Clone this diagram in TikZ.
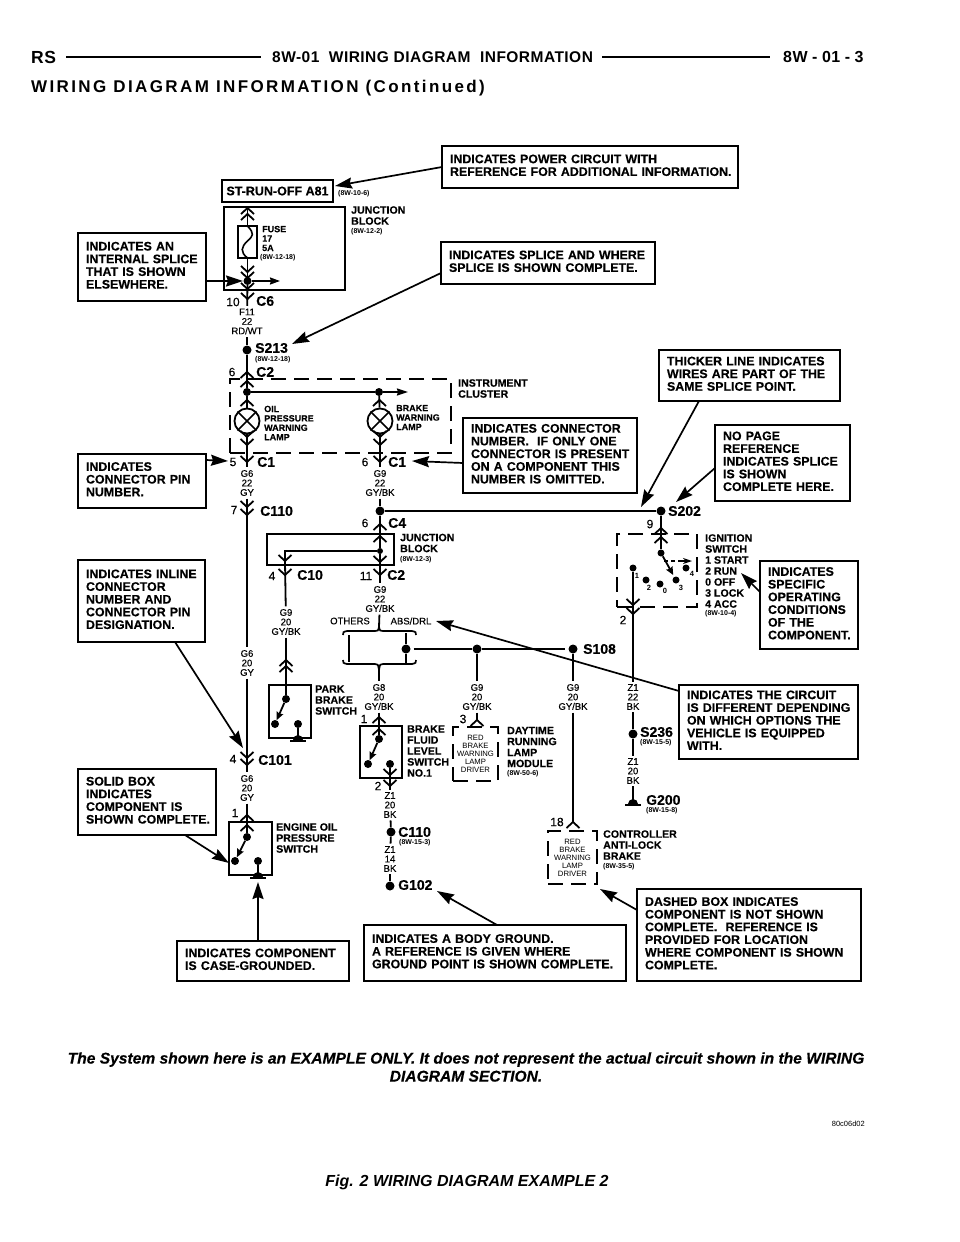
\documentclass[tikz,border=0pt]{standalone}
\usepackage{fontspec}
\setmainfont{Liberation Sans}
\newfontfamily\hdrfont[LetterSpace=14]{Liberation Sans}
\newfontfamily\headfont[LetterSpace=3]{Liberation Sans}
\newfontfamily\fb[FakeBold=0.35]{Liberation Sans Bold}
\newfontfamily\fr[FakeBold=0.3]{Liberation Sans}
\newfontfamily\fbi[FakeBold=0.35]{Liberation Sans Bold Italic}
\usetikzlibrary{arrows.meta,calc}
\tikzset{
  wire/.style={line width=1.8},
  trunk/.style={line width=2.4},
  call/.style={line width=1.7,-{Stealth[length=17,width=11,inset=2]}},
  blade/.style={line width=1.8,-{Stealth[length=8,width=7,inset=1]}},
  chev/.style={line width=1.8},
  boxln/.style={draw,line width=2},
  dashbox/.style={draw,line width=2,dash pattern=on 15 off 8},
  jdot/.style={circle,fill=black,inner sep=0,minimum size=9},
  sdot/.style={circle,fill=black,inner sep=0,minimum size=8},
  wl/.style={font=\fontsize{9.5}{9.5}\selectfont\fr,align=center,inner sep=2.5},
  comp/.style={font=\fontsize{10.6}{11}\selectfont\fb,align=left,anchor=west,inner sep=0},
  compsm/.style={font=\fontsize{9}{9.4}\selectfont\fb,align=left,anchor=west,inner sep=0},
  refl/.style={font=\fontsize{7}{7}\selectfont\bfseries,anchor=west,inner sep=0},
  conn/.style={font=\fontsize{14}{14}\selectfont\fb,anchor=west,inner sep=0},
  pin/.style={font=\fontsize{12}{12}\selectfont\fr,inner sep=0},
  driver/.style={font=\fontsize{7.7}{8}\selectfont,align=center},
}
\newcommand{\chevD}[2]{\draw[chev] (#1-6.5,#2-6)--(#1,#2)--(#1+6.5,#2-6);}
\newcommand{\chevU}[2]{\draw[chev] (#1-6.5,#2+6)--(#1,#2)--(#1+6.5,#2+6);}
\newcommand{\rectnode}[7][]{%
  \pgfmathsetmacro{\cxx}{(#3+#5)/2}\pgfmathsetmacro{\cyy}{(#4+#6)/2}%
  \pgfmathsetmacro{\cww}{#5-#3}\pgfmathsetmacro{\chh}{#6-#4}%
  \node[#1,outer sep=0,inner sep=0,minimum width=\cww pt,minimum height=\chh pt] (#2) at (\cxx,\cyy) {#7};}
\newcommand{\callout}[6]{%
  \pgfmathsetmacro{\cxx}{(#2+#4)/2}\pgfmathsetmacro{\cyy}{(#3+#5)/2}%
  \pgfmathsetmacro{\cww}{#4-#2}\pgfmathsetmacro{\chh}{#5-#3}\pgfmathsetmacro{\ctt}{#4-#2-16}%
  \node[boxln,outer sep=0,inner xsep=8,inner ysep=0,minimum width=\cww pt,minimum height=\chh pt,text width=\ctt pt,font=\fontsize{12.4}{12.7}\selectfont\fb] (#1) at (\cxx,\cyy) {\begin{tabular}{@{}l@{}}#6\end{tabular}};}
\newcommand{\gnd}[2]{\fill (#1-5,#2-1) arc[start angle=180,end angle=360,radius=5] -- cycle; \fill (#1-8,#2-1.5) rectangle (#1+8,#2+1.2);}
\newcommand{\lamp}[3]{\node[draw,circle,line width=1.8,minimum size=25,inner sep=0] (#1) at (#2,#3) {}; \draw[line width=1.6] (#1.45)--(#1.225) (#1.135)--(#1.315);}
\begin{document}
\begin{tikzpicture}[x=1pt,y=-1pt]
\useasboundingbox (0,0) rectangle (960,1242);
\fill[white] (0,0) rectangle (960,1242);

% header
\node[anchor=west,inner sep=0,font=\fontsize{17.5}{17.5}\selectfont\bfseries\headfont] (rs) at (31,57) {RS};
\node[anchor=west,inner sep=0,font=\fontsize{15.5}{16}\selectfont\bfseries\headfont] (ht) at (272,57) {8W-01\ \ WIRING DIAGRAM\ \ INFORMATION};
\node[anchor=west,inner sep=0,font=\fontsize{16}{16}\selectfont\bfseries\headfont] (hp) at (783,57) {8W\hspace{4.5pt}-\hspace{4.5pt}01\hspace{4.5pt}-\hspace{4.5pt}3};
\draw[line width=1.8] (rs.east)+(10,0) -- ([xshift=-11]ht.west);
\draw[line width=1.8] ([xshift=9]ht.east) -- ([xshift=-13]hp.west);
\node[anchor=west,inner sep=0,font=\fontsize{17}{17}\selectfont\bfseries\hdrfont] (sub) at (31,88) {WIRING DIAGRAM INFORMATION (Continued)};

% callouts
\callout{power}{442}{146}{738}{188}{INDICATES POWER CIRCUIT WITH\\REFERENCE FOR ADDITIONAL INFORMATION.}
\callout{internal}{78}{233}{206}{301}{INDICATES AN\\INTERNAL SPLICE\\THAT IS SHOWN\\ELSEWHERE.}
\callout{splice}{441}{242}{655}{284}{INDICATES SPLICE AND WHERE\\SPLICE IS SHOWN COMPLETE.}
\callout{thicker}{659}{350}{840}{401}{THICKER LINE INDICATES\\WIRES ARE PART OF THE\\SAME SPLICE POINT.}
\callout{nopage}{715}{425}{850}{501}{NO PAGE\\REFERENCE\\INDICATES SPLICE\\IS SHOWN\\COMPLETE HERE.}
\callout{connum}{463}{418}{637}{493}{INDICATES CONNECTOR\\NUMBER.\ \ IF ONLY ONE\\CONNECTOR IS PRESENT\\ON A COMPONENT THIS\\NUMBER IS OMITTED.}
\callout{pinnum}{78}{454}{206}{508}{INDICATES\\CONNECTOR PIN\\NUMBER.}
\callout{inline}{78}{560}{205}{642}{INDICATES INLINE\\CONNECTOR\\NUMBER AND\\CONNECTOR PIN\\DESIGNATION.}
\callout{specific}{760}{561}{858}{649}{INDICATES\\SPECIFIC\\OPERATING\\CONDITIONS\\OF THE\\COMPONENT.}
\callout{circuit}{679}{685}{858}{759}{INDICATES THE CIRCUIT\\IS DIFFERENT DEPENDING\\ON WHICH OPTIONS THE\\VEHICLE IS EQUIPPED\\WITH.}
\callout{solid}{78}{769}{216}{835}{SOLID BOX\\INDICATES\\COMPONENT IS\\SHOWN COMPLETE.}
\callout{casegnd}{177}{941}{349}{981}{INDICATES COMPONENT\\IS CASE-GROUNDED.}
\callout{body}{364}{925}{626}{981}{INDICATES A BODY GROUND.\\A REFERENCE IS GIVEN WHERE\\GROUND POINT IS SHOWN COMPLETE.}
\callout{dashedc}{637}{889}{861}{981}{DASHED BOX INDICATES\\COMPONENT IS NOT SHOWN\\COMPLETE.\ \ REFERENCE IS\\PROVIDED FOR LOCATION\\WHERE COMPONENT IS SHOWN\\COMPLETE.}

% power + junction block 1
\node[boxln,outer sep=0,inner sep=0,minimum width=111,minimum height=22,font=\fontsize{12.5}{12.5}\selectfont\fb] (strun) at (277.5,191) {ST-RUN-OFF A81};
\node[refl] (r1) at (338,194) {(8W-10-6)};
\rectnode[boxln]{jb1}{224}{207}{345}{290}{}
\node[comp] (jb1t) at (351,215.5) {JUNCTION\\BLOCK};
\node[refl] (r2) at (351,232) {(8W-12-2)};
\rectnode[draw,line width=1.8]{fuse}{238}{226}{257}{258}{}
\draw[line width=1.6] (fuse.north) .. controls (255,234) and (253,236) .. (247.5,241) .. controls (241,247) and (240,252) .. (fuse.south);
\node[compsm] (fuset) at (262,238.5) {FUSE\\17\\5A};
\node[refl] (r3) at (260,258) {(8W-12-18)};
\coordinate (jbtop) at (247.5,208);
\node[sdot] (jd) at (247.5,281) {};
\coordinate (jdr) at (280,281);
\coordinate (c6y) at (247.5,298);
\draw[wire] (jbtop)--(fuse.north);
\draw[wire] (fuse.south)--(jd);
\draw[blade,-{Stealth[length=10,width=7,inset=1]}] (jd)--(jdr);
\chevU{247.5}{208}\chevU{247.5}{214}\chevD{247.5}{272}\chevD{247.5}{278}\chevD{247.5}{289}\chevD{247.5}{299}
\node[pin] (p10) at (233,302) {10};
\node[conn] (c6) at (256,301) {C6};
\node[wl] (w1) at (247,321.5) {F11\\22\\RD/WT};
\draw[wire] (jd)--(w1);
\node[jdot] (s213) at (247,350) {};
\draw[wire] (w1)--(s213);
\node[conn] (s213t) at (255,348) {S213};
\node[refl] (r4) at (255,360) {(8W-12-18)};
% instrument cluster
\rectnode[dashbox]{ic}{230}{379}{451}{453}{}
\node[comp] (ict) at (458,388.5) {INSTRUMENT\\CLUSTER};
\coordinate (c2a) at (247,372);
\draw[wire] (s213)--(c2a);
\chevU{247}{372}\chevU{247}{381}
\node[pin] (p6a) at (232,372) {6};
\node[conn] (c2t) at (256,372) {C2};
\node[sdot] (b1) at (247,392) {};
\node[sdot] (b2) at (379,392) {};
\coordinate (b3) at (408,392);
\draw[wire] (c2a)--(b1);
\draw[wire] (b1)--(b2);
\draw[blade,-{Stealth[length=11,width=7,inset=1]}] (b2)--(b3);
\chevU{247}{400}\chevU{379.5}{400}
\lamp{l1}{247}{421}\lamp{l2}{380}{421}
\draw[wire] (b1)--(l1);
\draw[wire] (b2)--(l2);
\node[compsm] (l1t) at (264,423) {OIL\\PRESSURE\\WARNING\\LAMP};
\node[compsm] (l2t) at (396,417.5) {BRAKE\\WARNING\\LAMP};
\chevD{247}{437}\chevD{247}{445}\chevD{380}{437}\chevD{380}{445}\chevD{247}{462}\chevD{380}{462}
\node[pin] (p5) at (233,462) {5};
\node[pin] (p6b) at (365,462) {6};
\node[conn] (c1a) at (257,462) {C1};
\node[conn] (c1b) at (388,462) {C1};
\node[wl] (w2) at (247,483) {G6\\22\\GY};
\node[wl] (w3) at (380,483) {G9\\22\\GY/BK};
\draw[wire] (l1)--(w2);
\draw[wire] (l2)--(w3);
% trunk left
\chevD{247}{507}\chevD{247}{515}
\node[pin] (p7) at (234,510) {7};
\node[conn] (c110a) at (260,511) {C110};
\node[wl] (w4) at (247,663) {G6\\20\\GY};
\draw[wire] (w2)--(w4);
\chevD{247}{758}\chevD{247}{765}
\node[pin] (p4a) at (233,759) {4};
\node[conn] (c101) at (258,760) {C101};
\node[wl] (w5) at (247,788) {G6\\20\\GY};
\draw[wire] (w4)--(w5);
\coordinate (e1) at (247,815);
\draw[wire] (w5)--(e1);
\chevU{247}{815}\chevU{247}{825}
\node[pin] (p1a) at (235,813) {1};
% engine switch
\rectnode[boxln]{eng}{229}{822}{272}{875}{}
\node[sdot] (e2) at (247,837) {};
\node[sdot] (e3) at (235,861) {};
\node[sdot] (e4) at (258,861) {};
\coordinate (e5) at (258,875);
\draw[wire] (e1)--(e2);
\draw[blade] (e2)--(e3);
\draw[wire] (e4)--(e5);
\gnd{258}{878}
\node[comp] (engt) at (276,838) {ENGINE OIL\\PRESSURE\\SWITCH};
% main splice bar
\node[jdot] (n1) at (380,511) {};
\node[jdot] (s202) at (661,511) {};
\draw[wire] (w3)--(n1);
\draw[trunk] (n1)--(s202);
\node[conn] (s202t) at (668,511) {S202};
\coordinate (c4a) at (380,524);
\draw[wire] (n1)--(c4a);
\chevU{380}{524}
\node[pin] (p6c) at (365,523) {6};
\node[conn] (c4t) at (388,523) {C4};
% junction block 2
\rectnode[boxln]{jb2}{267}{534}{394}{565}{}
\node[comp] (jb2t) at (400,543) {JUNCTION\\BLOCK};
\node[refl] (r5) at (400,560) {(8W-12-3)};
\chevU{380}{536}
\node[sdot,minimum size=6] (n2) at (380,551) {};
\coordinate (n3) at (285,551);
\coordinate (n4) at (285,562);
\coordinate (n5) at (380,562);
\draw[wire] (c4a)--(n2);
\draw[wire] (n2)--(n3)--(n4);
\draw[wire] (n2)--(n5);
\chevD{285}{561}\chevD{380}{562}\chevD{285}{575}\chevD{380}{575}
\node[pin] (p4b) at (272,576) {4};
\node[pin] (p11) at (366,576) {11};
\node[conn] (c10) at (297,575) {C10};
\node[conn] (c2b) at (387,575) {C2};
\node[wl] (w6) at (286,622) {G9\\20\\GY/BK};
\node[wl] (w7) at (380,599) {G9\\22\\GY/BK};
\draw[wire] (n4)--(w6);
\draw[wire] (n5)--(w7);
\node[wl,inner sep=0] (oth) at (350,621) {OTHERS};
\node[wl,inner sep=0] (abs) at (411,621) {ABS/DRL};
% braces
\coordinate (brt) at (379,627);
\coordinate (brb) at (379,670);
\draw[wire] (w7)--(brt);
\draw[line width=1.7] (343,635) .. controls (343,632) .. (347,631) -- (375,631) .. controls (378,631) .. (brt) .. controls (380,631) .. (383,631) -- (412,631) .. controls (416,632) .. (416,635);
\draw[line width=1.7] (343,660) .. controls (343,663) .. (347,664) -- (375,664) .. controls (378,664) .. (brb) .. controls (380,664) .. (383,664) -- (412,664) .. controls (416,663) .. (416,660);
\draw[line width=1.7] (349,635)--(349,662);
\node[jdot] (n6) at (406,649) {};
\node[jdot] (n7) at (477,649) {};
\node[jdot] (s108) at (573,649) {};
\draw[wire] (406,633)--(n6)--(406,664);
\draw[trunk,shorten <=3pt] (n6)--(n7);
\draw[trunk,shorten >=3pt] (n7)--(s108);
\node[conn] (s108t) at (583,649) {S108};
% park brake
\chevU{286}{660}\chevU{286}{666}
\rectnode[boxln]{park}{269}{685}{311}{738}{}
\node[sdot] (k1) at (286,699) {};
\node[sdot] (k2) at (275,724) {};
\node[sdot] (k3) at (298,724) {};
\coordinate (k4) at (298,738);
\draw[wire] (w6)--(k1);
\draw[blade] (k1)--(k2);
\draw[wire] (k3)--(k4);
\gnd{298}{741}
\node[comp] (parkt) at (315,700) {PARK\\BRAKE\\SWITCH};
% brake fluid
\node[wl] (w8) at (379,697) {G8\\20\\GY/BK};
\draw[wire] (brb)--(w8);
\coordinate (f1) at (379,717);
\draw[wire] (w8)--(f1);
\chevU{379}{717}\chevU{379}{729}
\node[pin] (p1b) at (364,719) {1};
\rectnode[boxln]{fluid}{360}{726}{402}{778}{}
\node[sdot] (f2) at (379,739) {};
\node[sdot] (f3) at (368,764) {};
\node[sdot] (f4) at (390,764) {};
\coordinate (f5) at (390,792);
\draw[wire] (f1)--(f2);
\draw[blade] (f2)--(f3);
\chevD{390}{775}\chevD{390}{786}
\node[pin] (p2a) at (378,786) {2};
\node[comp] (fluidt) at (407,751) {BRAKE\\FLUID\\LEVEL\\SWITCH\\NO.1};
\node[wl] (w9) at (390,805) {Z1\\20\\BK};
\draw[wire] (f4)--(w9);
\node[jdot] (c110d) at (391,832) {};
\draw[wire] (w9)--(c110d);
\node[conn] (c110t) at (398,832) {C110};
\node[refl] (r6) at (399,843) {(8W-15-3)};
\node[wl] (w10) at (390,859) {Z1\\14\\BK};
\draw[wire] (c110d)--(w10);
\node[jdot] (g102) at (390,886) {};
\draw[wire] (w10)--(g102);
\node[conn] (g102t) at (398,885) {G102};
% daytime module
\node[wl] (w11) at (477,697) {G9\\20\\GY/BK};
\draw[wire] (n7)--(w11);
\coordinate (d1) at (477,720);
\draw[wire] (w11)--(d1);
\chevU{477}{720}
\node[pin] (p3) at (463,719) {3};
\rectnode[dashbox,driver]{dtm}{453}{727}{498}{781}{RED\\BRAKE\\WARNING\\LAMP\\DRIVER}
\node[comp] (dtmt) at (507,747) {DAYTIME\\RUNNING\\LAMP\\MODULE};
\node[refl] (r7) at (507,774) {(8W-50-6)};
% controller
\node[wl] (w12) at (573,697) {G9\\20\\GY/BK};
\draw[wire] (s108)--(w12);
\coordinate (a1) at (573,822);
\draw[wire] (w12)--(a1);
\chevU{573}{822}
\node[pin] (p18) at (557,822) {18};
\rectnode[dashbox,driver]{abs2}{548}{831}{597}{884}{RED\\BRAKE\\WARNING\\LAMP\\DRIVER}
\node[comp] (absct) at (603,845) {CONTROLLER\\ANTI-LOCK\\BRAKE};
\node[refl] (r8) at (603,867) {(8W-35-5)};
% ignition
\coordinate (i1) at (661,528);
\draw[wire] (s202)--(i1);
\chevU{661}{528}\chevU{661}{537}
\node[pin] (p9) at (650,524) {9};
\rectnode[dashbox]{ign}{617}{534}{697}{607}{}
\node[sdot,minimum size=7] (i2) at (661,553) {};
\node[sdot,minimum size=7] (i3) at (676,580) {};
\node[sdot,minimum size=7] (i4) at (633,568) {};
\node[sdot,minimum size=7] (i5) at (646,580) {};
\node[sdot,minimum size=7] (i6) at (660,584) {};
\node[sdot,minimum size=7] (i7) at (686,568) {};
\draw[wire] (i1)--(i2);
\draw[blade,shorten >=2pt] (i2)--(i3);
\coordinate (i8) at (664,561);
\coordinate (i9) at (692,561);
\draw[line width=1.4,dash pattern=on 4 off 3] (i8)--(680,561);
\draw[blade,-{Stealth[length=9,width=6]}] (680,561)--(i9);
\foreach \nm/\tx/\px/\py in {q1/1/637/576,q2/2/649/588,q0/0/665/591,q3/3/681/588,q4/4/692/574}
  \node[inner sep=0,font=\fontsize{7.5}{7.5}\selectfont\bfseries] (\nm) at (\px,\py) {\tx};
\coordinate (i10) at (633,605);
\draw[wire] (i4)--(i10);
\chevD{633}{605}\chevD{633}{614}
\node[pin] (p2b) at (623,620) {2};
\node[comp] (ignt) at (705,571) {IGNITION\\SWITCH\\1 START\\2 RUN\\0 OFF\\3 LOCK\\4 ACC};
\node[refl] (r9) at (705,614) {(8W-10-4)};
\node[wl] (w13) at (633,697) {Z1\\22\\BK};
\draw[wire] (i10)--(w13);
\node[jdot] (s236) at (633,734) {};
\draw[wire] (w13)--(s236);
\node[conn] (s236t) at (640,732) {S236};
\node[refl] (r10) at (640,743) {(8W-15-5)};
\node[wl] (w14) at (633,771) {Z1\\20\\BK};
\draw[wire] (s236)--(w14);
\coordinate (g200c) at (633,800);
\draw[wire] (w14)--(g200c);
\gnd{633}{805}
\node[conn] (g200t) at (646,800) {G200};
\node[refl] (r11) at (646,811) {(8W-15-8)};

% callout arrows
\coordinate (t1) at (335,186);
\coordinate (t2) at (243,281);
\coordinate (t3) at (292,344);
\coordinate (t4) at (641,507);
\coordinate (t5) at (676,502);
\coordinate (t6) at (412,461);
\coordinate (t7) at (228,461);
\coordinate (t8) at (243,748);
\coordinate (t9) at (741,573);
\coordinate (t10) at (436,621);
\coordinate (t11) at (229,863);
\coordinate (t12) at (258,882);
\coordinate (t13) at (437,891);
\coordinate (t14) at (600,889);
\draw[call] (power.west)--(t1);
\draw[call] ([yshift=-14]internal.east)--(t2);
\draw[call] ([yshift=-10]splice.west)--(t3);
\draw[call] ([xshift=-50.5]thicker.south)--(t4);
\draw[call] ([yshift=-5]nopage.west)--(t5);
\draw[call] ([yshift=-7.5]connum.west)--(t6);
\draw[call] ([yshift=21]pinnum.east)--(t7);
\draw[call] ([xshift=33.5]inline.south)--(t8);
\draw[call] ([yshift=13]specific.west)--(t9);
\draw[call] ([yshift=31]circuit.west)--(t10);
\draw[call] ([xshift=38]solid.south)--(t11);
\draw[call] ([xshift=-5]casegnd.north)--(t12);
\draw[call] ([xshift=2]body.north)--(t13);
\draw[call] ([yshift=25]dashedc.west)--(t14);

% footer
\node[inner sep=0,align=center,font=\fontsize{15.6}{18}\selectfont\fbi] (note) at (466,1067) {The System shown here is an EXAMPLE ONLY. It does not represent the actual circuit shown in the WIRING\\DIAGRAM SECTION.};
\node[anchor=east,inner sep=0,font=\fontsize{7.5}{7.5}\selectfont] (code) at (865,1124) {80c06d02};
\node[inner sep=0,font=\fontsize{16}{16}\selectfont\bfseries\itshape] (cap) at (467,1182) {Fig. 2 WIRING DIAGRAM EXAMPLE 2};
\end{tikzpicture}
\end{document}
